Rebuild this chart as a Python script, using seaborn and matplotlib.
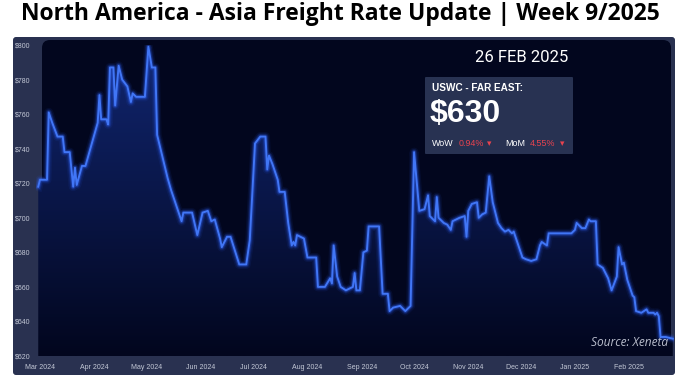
import matplotlib
matplotlib.use("Agg")
import matplotlib.pyplot as plt
import matplotlib.dates as mdates
from matplotlib.patches import FancyBboxPatch
from matplotlib.colors import LinearSegmentedColormap
import numpy as np
import pandas as pd
import seaborn as sns

# USWC - Far East rate (USD/FEU)
dates = ["2024-02-29", "2024-03-01", "2024-03-05", "2024-03-06", "2024-03-08", "2024-03-11",
         "2024-03-14", "2024-03-15", "2024-03-18", "2024-03-20", "2024-03-21", "2024-03-22",
         "2024-03-25", "2024-03-27", "2024-04-03", "2024-04-04", "2024-04-05", "2024-04-08",
         "2024-04-09", "2024-04-10", "2024-04-12", "2024-04-13", "2024-04-15", "2024-04-17",
         "2024-04-20", "2024-04-22", "2024-04-23", "2024-04-25", "2024-04-30", "2024-05-02",
         "2024-05-04", "2024-05-06", "2024-05-07", "2024-05-13", "2024-05-15", "2024-05-21",
         "2024-05-22", "2024-05-27", "2024-05-30", "2024-06-02", "2024-06-05", "2024-06-07",
         "2024-06-09", "2024-06-12", "2024-06-13", "2024-06-16", "2024-06-18", "2024-06-23",
         "2024-06-27", "2024-06-29", "2024-07-02", "2024-07-05", "2024-07-08", "2024-07-09",
         "2024-07-10", "2024-07-12", "2024-07-15", "2024-07-16", "2024-07-19", "2024-07-21",
         "2024-07-23", "2024-07-24", "2024-07-25", "2024-07-26", "2024-07-30", "2024-08-01",
         "2024-08-06", "2024-08-07", "2024-08-11", "2024-08-14", "2024-08-15", "2024-08-16",
         "2024-08-18", "2024-08-20", "2024-08-23", "2024-08-27", "2024-08-28", "2024-08-29",
         "2024-08-31", "2024-09-02", "2024-09-04", "2024-09-05", "2024-09-11", "2024-09-13",
         "2024-09-16", "2024-09-17", "2024-09-19", "2024-09-23", "2024-09-26", "2024-09-29",
         "2024-10-01", "2024-10-04", "2024-10-07", "2024-10-09", "2024-10-10", "2024-10-13",
         "2024-10-14", "2024-10-15", "2024-10-18", "2024-10-20", "2024-10-22", "2024-10-23",
         "2024-10-27", "2024-10-30", "2024-10-31", "2024-11-01", "2024-11-03", "2024-11-06",
         "2024-11-07", "2024-11-09", "2024-11-11", "2024-11-13", "2024-11-15", "2024-11-18",
         "2024-11-20", "2024-11-22", "2024-11-24", "2024-11-26", "2024-11-27", "2024-11-29",
         "2024-12-02", "2024-12-04", "2024-12-07", "2024-12-10", "2024-12-12", "2024-12-13",
         "2024-12-16", "2024-12-17", "2024-12-30", "2025-01-01", "2025-01-02", "2025-01-05",
         "2025-01-07", "2025-01-09", "2025-01-10", "2025-01-13", "2025-01-14", "2025-01-17",
         "2025-01-20", "2025-01-22", "2025-01-25", "2025-01-26", "2025-01-28", "2025-01-29",
         "2025-01-31", "2025-02-03", "2025-02-04", "2025-02-05", "2025-02-08", "2025-02-11",
         "2025-02-12", "2025-02-15", "2025-02-16", "2025-02-17", "2025-02-18", "2025-02-19",
         "2025-02-22", "2025-02-26"]
rates = [718, 722, 722, 761, 755, 747,
         747, 738, 738, 718, 729, 719,
         730, 730, 755, 771, 757, 757,
         754, 787, 787, 765, 788, 780,
         776, 767, 772, 770, 770, 799,
         787, 787, 748, 723, 716, 698,
         703, 703, 690, 703, 704, 698,
         699, 688, 683, 689, 689, 673,
         673, 687, 743, 747, 747, 728,
         736, 731, 722, 715, 715, 697,
         684, 686, 684, 690, 688, 677,
         677, 660, 660, 665, 662, 684,
         666, 660, 658, 660, 668, 658,
         658, 680, 681, 695, 695, 656,
         656, 646, 648, 649, 646, 649,
         738, 704, 705, 713, 701, 698,
         712, 700, 697, 696, 693, 698,
         700, 701, 689, 704, 708, 709,
         700, 702, 703, 724, 709, 697,
         694, 692, 693, 691, 692, 686,
         677, 676, 675, 676, 684, 686,
         684, 691, 691, 693, 697, 694,
         694, 699, 698, 698, 673, 671,
         665, 658, 666, 683, 673, 674,
         664, 655, 654, 646, 645, 647,
         645, 645, 644, 645, 643, 631,
         631, 630]
yticks = [620, 640, 660, 680, 700, 720, 740, 760, 780, 800]

title = "North America - Asia Freight Rate Update | Week 9/2025"
lane = "USWC - FAR EAST:"
latest = "$630"
wow, mom = "0.94%", "4.55%"

df = pd.DataFrame({"date": pd.to_datetime(dates), "rate": rates})

W, H = 679, 381
fig = plt.figure(figsize=(W / 100, H / 100), dpi=100, facecolor="white")

# background layer in pixel coordinates
bg = fig.add_axes([0, 0, 1, 1], zorder=0)
bg.set_xlim(0, W)
bg.set_ylim(H, 0)
bg.axis("off")
bg.add_patch(FancyBboxPatch((13, 37), 662, 338, boxstyle="round,pad=0,rounding_size=3",
                            fc="#293150", ec="none"))
bg.add_patch(FancyBboxPatch((42, 40), 629, 312, boxstyle="round,pad=0,rounding_size=8",
                            fc="#02061e", ec="none"))

# main chart axes, pixel span 36..674 horizontally, 45..356 vertically
x0_px, x1_px = 36, 674
start = mdates.date2num(pd.Timestamp("2024-03-01"))
ppd = 1.748  # pixels per day
ax = fig.add_axes([x0_px / W, 1 - 356 / H, (x1_px - x0_px) / W, (356 - 45) / H], zorder=1)
ax.patch.set_alpha(0)
xnum = mdates.date2num(df["date"])

# gradient fill under the line
poly = ax.fill_between(xnum, df["rate"], 600, color="none")
grad = np.linspace(1, 0, 256).reshape(-1, 1)
cmap = LinearSegmentedColormap.from_list("f", ["#02061e", "#112670"])
img = ax.imshow(grad, extent=[xnum[0], xnum[-1], 620, 800], aspect="auto", cmap=cmap,
                origin="upper", zorder=1)
img.set_clip_path(poly.get_paths()[0], transform=ax.transData)

# glow + line
for lw, a in [(6.5, 0.08), (4.5, 0.15), (3, 0.3)]:
    ax.plot(xnum, df["rate"], color="#2f63ff", lw=lw, alpha=a, zorder=2, solid_joinstyle="round")
sns.lineplot(x=xnum, y=df["rate"], ax=ax, color="#4176f6", lw=1.4, zorder=3)

ax.set_xlim(start - (40 - x0_px) / ppd, start + (x1_px - 40) / ppd)
ax.set_ylim(620, 800)
ax.set_yticks(yticks)
ax.set_yticklabels([f"${v}" for v in yticks])
ax.xaxis.set_major_locator(mdates.MonthLocator())
ax.xaxis.set_major_formatter(mdates.DateFormatter("%b %Y"))
ax.tick_params(length=0, labelsize=5, labelcolor="#c3c8d6")
ax.tick_params(axis="y", pad=4)
ax.tick_params(axis="x", pad=6)
ax.set_xlabel("")
ax.set_ylabel("")
for s in ax.spines.values():
    s.set_visible(False)
for t in ax.get_xticklabels() + ax.get_yticklabels():
    t.set_family("Liberation Sans")

# annotations (pixel coords)
top = fig.add_axes([0, 0, 1, 1], zorder=2)
top.set_xlim(0, W)
top.set_ylim(H, 0)
top.axis("off")
top.text(340, 14, title, ha="center", va="center", fontsize=16.5,
         fontweight="bold", family="Open Sans", color="black")
top.text(522, 58, "26 FEB 2025", ha="center", va="center", fontsize=12,
         family="Roboto", color="white")
top.add_patch(FancyBboxPatch((425, 77), 148, 77, boxstyle="round,pad=0,rounding_size=1",
                             fc="#283252", ec="none"))
top.text(432, 88, lane, ha="left", va="center", fontsize=7.2, fontweight="bold",
         family="Liberation Sans", color="white")
top.text(430, 114, latest, ha="left", va="center", fontsize=23, fontweight="bold",
         family="Liberation Sans", color="white")
red = "#e8434f"
fs = 6.4
top.text(432, 144, "WoW", ha="left", va="center", fontsize=fs, family="Liberation Sans", color="white")
top.text(459, 144, wow, ha="left", va="center", fontsize=fs, family="Liberation Sans", color=red)
top.text(487, 144, "▾", ha="left", va="center", fontsize=fs, family="DejaVu Sans", color=red)
top.text(505, 144, "MoM", ha="left", va="center", fontsize=fs, family="Liberation Sans", color="white")
top.text(530, 144, mom, ha="left", va="center", fontsize=fs, family="Liberation Sans", color=red)
top.text(560, 144, "▾", ha="left", va="center", fontsize=fs, family="DejaVu Sans", color=red)
top.text(668, 342, "Source: Xeneta", ha="right", va="center", fontsize=8.6, style="italic",
         family="Open Sans", color="#b9bdcc")

fig.savefig("out.png", dpi=100, facecolor="white")
